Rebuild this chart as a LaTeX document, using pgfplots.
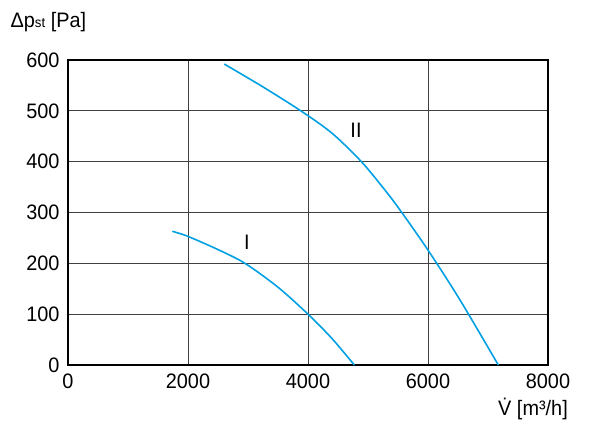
\documentclass[border=0pt]{standalone}
\usepackage{fontspec}
\setmainfont{Liberation Sans}[FakeStretch=0.95]
\usepackage{pgfplots}
\pgfplotsset{compat=1.18}
\definecolor{curve}{RGB}{0,160,227}
\begin{document}
\begin{tikzpicture}
\path[use as bounding box] (0,0) rectangle (600bp,424bp);
\begin{axis}[
  at={(68bp,59bp)}, anchor=south west,
  scale only axis, width=480bp, height=305bp,
  xmin=0, xmax=8000, ymin=0, ymax=600,
  xtick={0,2000,4000,6000,8000},
  ytick={0,100,200,300,400,500,600},
  grid=major,
  major grid style={draw=black!75, line width=0.9pt},
  axis line style={line width=1.8pt},
  tick style={draw=none},
  /pgf/number format/assume math mode=true,
  /pgf/number format/1000 sep={},
  tick label style={font=\fontsize{21}{24}\selectfont},
  xticklabel style={yshift=-5bp},
  yticklabel style={xshift=-5bp},
  clip=false,
]
\addplot[curve, line width=1.6pt, smooth] coordinates {
(1739,263) (2000,253) (2500,227) (2950,200) (3500,153) (4000,100) (4400,52) (4772,0)};
\addplot[curve, line width=1.6pt, smooth] coordinates {
(2605,592) (3250,547) (3880,500) (4400,456) (4890,400) (5283,344) (5533,305) (6000,226) (6533,128) (7172,0)};
\node[font=\fontsize{21}{24}\selectfont] at (axis cs:4800,462) {II};
\node[font=\fontsize{21}{24}\selectfont] at (axis cs:2983,242) {I};
\node[anchor=base west, font=\fontsize{21}{24}\selectfont, inner sep=0pt] at (axis cs:-960,663) {Δp{\fontsize{14}{16}\selectfont st} [Pa]};
\node[anchor=base, font=\fontsize{21}{24}\selectfont, inner sep=0pt] at (axis cs:7750,-100) {\.{V} [m³/h]};
\end{axis}
\end{tikzpicture}
\end{document}
